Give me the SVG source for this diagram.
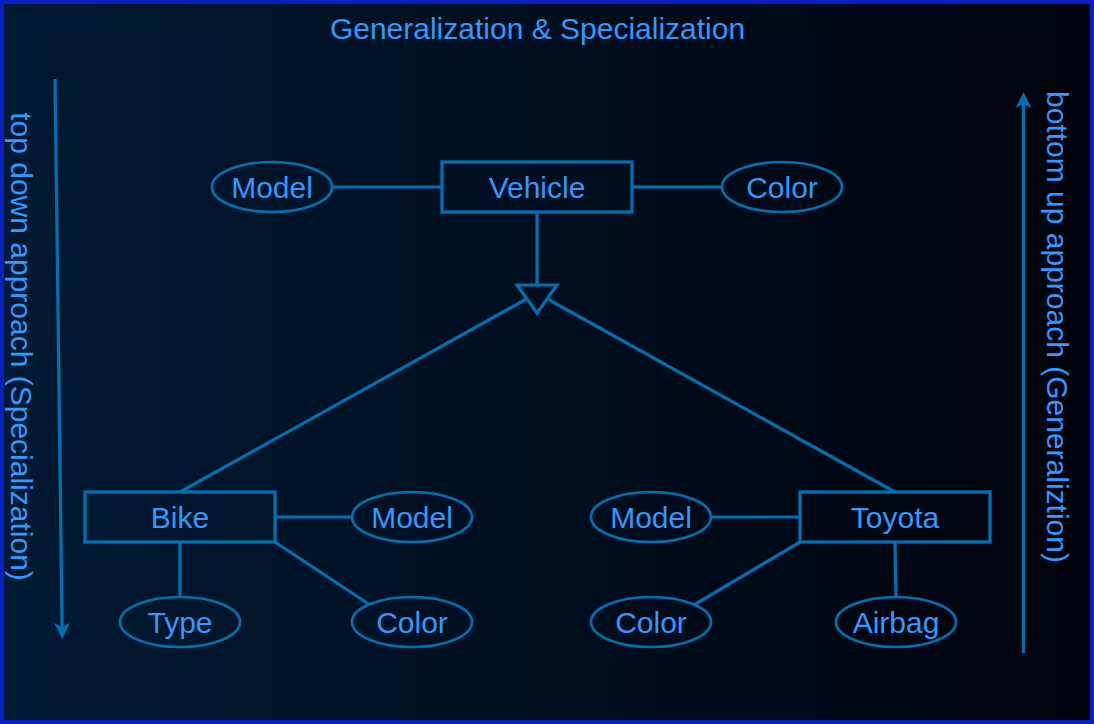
<svg xmlns="http://www.w3.org/2000/svg" width="1094" height="724" viewBox="0 0 1094 724">
  <defs>
    <linearGradient id="bg" x1="0" y1="0" x2="1" y2="0">
      <stop offset="0" stop-color="#001A33"/>
      <stop offset="1" stop-color="#00030C"/>
    </linearGradient>
    <marker id="arrow" viewBox="0 0 16 16" refX="4" refY="8" markerWidth="16" markerHeight="16" markerUnits="userSpaceOnUse" orient="auto">
      <path d="M0,0 L16,8 L0,16 L4,8 Z" fill="#0070B0"/>
    </marker>
    <style>
      .ent { fill: none; stroke: #0070B0; stroke-width: 3.3; }
      .att { fill: none; stroke: #0070B0; stroke-width: 2.7; }
      .ln { fill: none; stroke: #0070B0; stroke-width: 3.2; }
      .lbl { font-family: "Liberation Sans", Arial, sans-serif; font-size: 30px; fill: #3399FF; text-anchor: middle; }
    </style>
  </defs>

  <rect x="2" y="2" width="1090" height="720" fill="url(#bg)" stroke="#0A1FC0" stroke-width="4"/>

  <g id="title">
    <text class="lbl" x="537.5" y="38.5">Generalization &amp; Specialization</text>
  </g>

  <g id="connectors">
    <line class="ln" x1="332" y1="187" x2="442" y2="187"/>
    <line class="ln" x1="632" y1="187" x2="722" y2="187"/>
    <line class="ln" x1="537" y1="212" x2="537" y2="285"/>
    <line class="ln" x1="526.5" y1="299" x2="180" y2="492"/>
    <line class="ln" x1="547.5" y1="299" x2="895" y2="492"/>
    <line class="ln" x1="275" y1="517" x2="352" y2="517"/>
    <line class="ln" x1="180" y1="542" x2="180" y2="597"/>
    <line class="ln" x1="275" y1="542" x2="370" y2="605"/>
    <line class="ln" x1="711" y1="517" x2="800" y2="517"/>
    <line class="ln" x1="800" y1="542" x2="694" y2="605"/>
    <line class="ln" x1="895" y1="542" x2="896" y2="597"/>
  </g>

  <g id="vehicle">
    <rect class="ent" x="442" y="162" width="190" height="50"/>
    <text class="lbl" x="537" y="197.5">Vehicle</text>
  </g>
  <g id="vehicle-model">
    <ellipse class="att" cx="272" cy="187" rx="60" ry="25"/>
    <text class="lbl" x="272" y="197.5">Model</text>
  </g>
  <g id="vehicle-color">
    <ellipse class="att" cx="782" cy="187" rx="60" ry="25"/>
    <text class="lbl" x="782" y="197.5">Color</text>
  </g>

  <g id="isa">
    <polygon class="ln" points="517,285 557,285 537,313"/>
  </g>

  <g id="bike">
    <rect class="ent" x="85" y="492" width="190" height="50"/>
    <text class="lbl" x="180" y="527.7">Bike</text>
  </g>
  <g id="bike-model">
    <ellipse class="att" cx="412" cy="517" rx="60" ry="25"/>
    <text class="lbl" x="412" y="528">Model</text>
  </g>
  <g id="bike-type">
    <ellipse class="att" cx="180" cy="622" rx="60" ry="25"/>
    <text class="lbl" x="180" y="632.7">Type</text>
  </g>
  <g id="bike-color">
    <ellipse class="att" cx="412" cy="622" rx="60" ry="25"/>
    <text class="lbl" x="412" y="632.7">Color</text>
  </g>

  <g id="toyota">
    <rect class="ent" x="800" y="492" width="190" height="50"/>
    <text class="lbl" x="895" y="527.7">Toyota</text>
  </g>
  <g id="toyota-model">
    <ellipse class="att" cx="651" cy="517" rx="60" ry="25"/>
    <text class="lbl" x="651" y="528">Model</text>
  </g>
  <g id="toyota-color">
    <ellipse class="att" cx="651" cy="622" rx="60" ry="25"/>
    <text class="lbl" x="651" y="632.7">Color</text>
  </g>
  <g id="toyota-airbag">
    <ellipse class="att" cx="896" cy="622" rx="60" ry="25"/>
    <text class="lbl" x="896" y="632.7">Airbag</text>
  </g>

  <g id="top-down-arrow">
    <line class="ln" x1="55" y1="79" x2="62.1" y2="627" marker-end="url(#arrow)"/>
    <text class="lbl" transform="translate(11,346.5) rotate(90)" x="0" y="0">top down approach (Specialization)</text>
  </g>
  <g id="bottom-up-arrow">
    <line class="ln" x1="1023.5" y1="653" x2="1023.5" y2="104" marker-end="url(#arrow)"/>
    <text class="lbl" transform="translate(1047,327) rotate(90)" x="0" y="0">bottom up approach (Generaliztion)</text>
  </g>
</svg>
